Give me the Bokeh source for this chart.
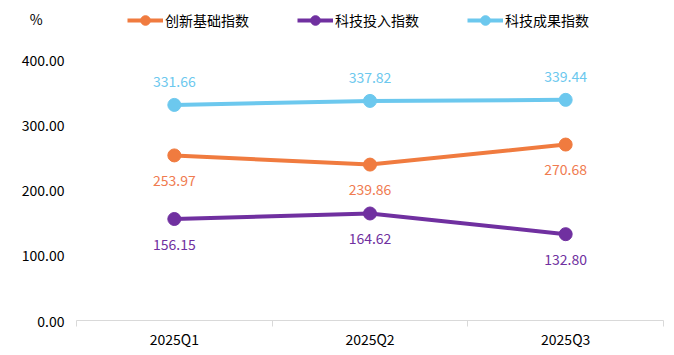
from bokeh.plotting import figure
from bokeh.models import (Range1d, FixedTicker, NumeralTickFormatter, Legend, LegendItem,
                          ColumnDataSource, LabelSet)
from bokeh.core.properties import value
from bokeh.embed import file_html
from bokeh.resources import INLINE

categories = ["2025Q1", "2025Q2", "2025Q3"]
innovation_base = [253.97, 239.86, 270.68]
tech_input = [156.15, 164.62, 132.80]
tech_output = [331.66, 337.82, 339.44]
series_names = ["创新基础指数", "科技投入指数", "科技成果指数"]
y_ticks = [0, 100, 200, 300, 400]
unit_label = "%"

FONT = "Noto Sans CJK SC"
colors = ["#F07B3F", "#7030A0", "#6CC8EE"]
label_colors = ["#F07B50", "#7030A0", "#6CC8EE"]
label_offsets = [-25, -25, 23]

xs = [i + 0.5 for i in range(len(categories))]
Y_TOP = 492.3
UNIT_POS = 464.6

p = figure(width=674, height=355, output_backend="svg", toolbar_location=None,
           x_range=Range1d(0, len(categories)), y_range=Range1d(0, Y_TOP),
           min_border_left=76, min_border_right=11, min_border_top=0, min_border_bottom=35)
p.outline_line_color = None
p.xgrid.grid_line_color = None
p.ygrid.grid_line_color = None

# x axis
p.xaxis.ticker = FixedTicker(ticks=xs, minor_ticks=list(range(len(categories) + 1)))
p.xaxis.major_label_overrides = {x: c for x, c in zip(xs, categories)}
p.xaxis.major_tick_line_color = None
p.xaxis.major_tick_out = 0
p.xaxis.major_tick_in = 0
p.xaxis.minor_tick_out = 6
p.xaxis.minor_tick_in = 0
p.xaxis.minor_tick_line_color = "#D9D9D9"
p.xaxis.axis_line_color = "#D9D9D9"
p.xaxis.major_label_text_font = FONT
p.xaxis.major_label_text_font_size = "14px"
p.xaxis.major_label_text_color = "#000000"
p.xaxis.major_label_standoff = 2

# y axis
p.yaxis.ticker = FixedTicker(ticks=y_ticks + [UNIT_POS])
p.yaxis.formatter = NumeralTickFormatter(format="0.00")
p.yaxis.major_label_overrides = {UNIT_POS: unit_label + "\u00a0" * 7}
p.yaxis.axis_line_color = None
p.yaxis.major_tick_line_color = None
p.yaxis.major_tick_out = 0
p.yaxis.major_tick_in = 0
p.yaxis.minor_tick_line_color = None
p.yaxis.major_label_text_font = FONT
p.yaxis.major_label_text_font_size = "14px"
p.yaxis.major_label_text_color = "#000000"
p.yaxis.major_label_standoff = 12

items = []
for name, vals, col, lcol, off in zip(series_names, [innovation_base, tech_input, tech_output],
                                       colors, label_colors, label_offsets):
    src = ColumnDataSource(dict(x=xs, y=vals, t=[f"{v:.2f}" for v in vals]))
    r1 = p.line("x", "y", source=src, line_color=col, line_width=4)
    r2 = p.scatter("x", "y", source=src, size=13, fill_color=col, line_color=col)
    p.add_layout(LabelSet(x="x", y="y", text="t", source=src, y_offset=off,
                          text_align="center", text_baseline="middle",
                          text_font=value(FONT), text_font_size=value("14px"), text_color=lcol))
    items.append(LegendItem(label=name, renderers=[r1, r2]))

legend = Legend(items=items, orientation="horizontal", location=(51, 288),
                glyph_width=36, glyph_height=24, label_height=14, label_text_font=FONT,
                label_text_font_size="14px", label_standoff=2, spacing=48,
                label_text_color="#000000",
                border_line_color=None, background_fill_alpha=0, padding=0, margin=0)
p.add_layout(legend, "center")

open("out.html", "w").write(file_html(p, INLINE))
